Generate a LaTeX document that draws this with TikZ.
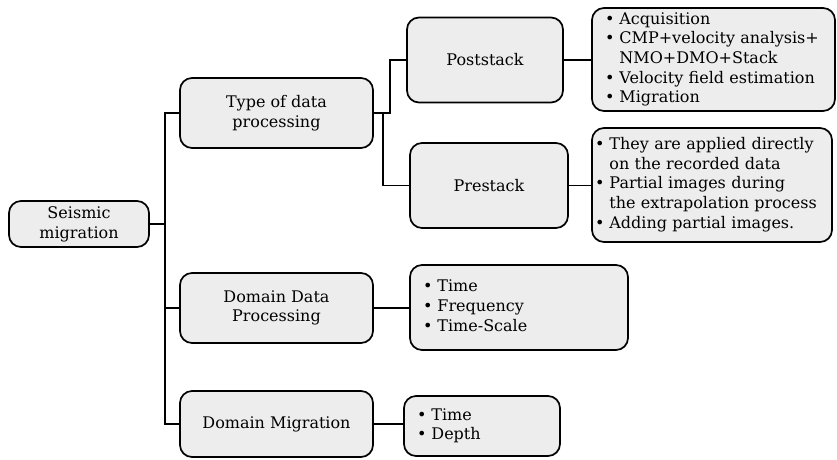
\documentclass[tikz,border=0pt]{standalone}
\usepackage{fontspec}
\setmainfont{DejaVu Serif}
\usetikzlibrary{positioning, calc}

\definecolor{boxgray}{HTML}{EDEDED}
\tikzset{
  stage/.style={draw, line width=1.7pt, fill=boxgray, rounded corners=12pt,
                align=center, inner sep=0pt},
  listbox/.style={draw, line width=1.7pt, fill=boxgray, rounded corners=12pt,
                  align=left, inner xsep=13pt, inner ysep=0pt},
  link/.style={line width=1.3pt}
}
\newenvironment{bullets}{\begin{tabular}{@{}l@{\hspace{5pt}}l@{}}}{\end{tabular}}

\begin{document}
\begin{tikzpicture}[x=1pt, y=-1pt, font=\fontsize{16}{19.7}\selectfont]
  \useasboundingbox (0,0) rectangle (837,459);

  % boxes of the tree
  \node[stage, minimum width=140pt, minimum height=46pt] (seis) at (79,224)
       {Seismic\\migration};
  \node[stage, minimum width=193pt, minimum height=70pt] (tdp) at (276.5,113)
       {Type of data\\processing};
  \node[stage, minimum width=193pt, minimum height=70pt] (ddp) at (276.5,308)
       {Domain Data\\Processing};
  \node[stage, minimum width=193pt, minimum height=66pt] (dm) at (276.5,424)
       {Domain Migration};
  \node[stage, minimum width=156pt, minimum height=85pt] (post) at (485,60)
       {Poststack};
  \node[stage, minimum width=158pt, minimum height=85pt] (pre) at (489,185.5)
       {Prestack};

  % lists
  \node[listbox, text width=217pt, minimum height=103pt] (postlist) at (713.5,59.5)
       {\begin{bullets}
        \textbullet & Acquisition\\
        \textbullet & CMP+velocity analysis+\\
                    & NMO+DMO+Stack\\
        \textbullet & Velocity field estimation\\
        \textbullet & Migration
        \end{bullets}};
  \node[listbox, inner xsep=3pt, text width=234pt, minimum height=114pt] (prelist) at (712,185)
       {\begin{bullets}
        \textbullet & They are applied directly\\
                    & on the recorded data\\
        \textbullet & Partial images during\\
                    & the extrapolation process\\
        \textbullet & Adding partial images.
        \end{bullets}};
  \node[listbox, text width=192pt, minimum height=85pt] (ddplist) at (519,307.5)
       {\begin{bullets}
        \textbullet & Time\\
        \textbullet & Frequency\\
        \textbullet & Time-Scale
        \end{bullets}};
  \node[listbox, text width=130pt, minimum height=60pt] (dmlist) at (482,426)
       {\begin{bullets}
        \textbullet & Time\\
        \textbullet & Depth
        \end{bullets}};

  % connectors
  \coordinate (trunk) at (165,224);
  \coordinate (forkA) at (390,113);
  \coordinate (forkB) at (383,113);
  \draw[link] (seis.east) -- (trunk);
  \draw[link] (tdp.west) -| (trunk) |- (dm.west);
  \draw[link] (ddp.west) -- (ddp.west -| trunk);
  \draw[link] (tdp.east) -- (forkA) |- (post.west);
  \draw[link] (forkB) |- (pre.west);
  \draw[link] (post.east) -- (post.east -| postlist.west);
  \draw[link] (pre.east) -- (pre.east -| prelist.west);
  \draw[link] (ddp.east) -- (ddp.east -| ddplist.west);
  \draw[link] (dm.east) -- (dm.east -| dmlist.west);
\end{tikzpicture}
\end{document}
